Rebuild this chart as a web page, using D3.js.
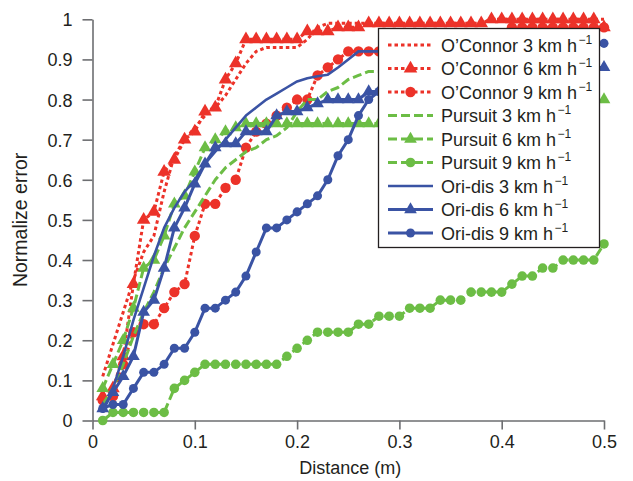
<!DOCTYPE html>
<html>
<head>
<meta charset="utf-8">
<script src="https://cdn.jsdelivr.net/npm/d3@7"></script>
<style>
  html, body { margin: 0; padding: 0; background: #fff; }
  svg { display: block; }
  text { font-family: "Liberation Sans", Arial, Helvetica, sans-serif; fill: #231f20; }
</style>
</head>
<body>
<svg id="chart" width="633" height="481"></svg>
<script>
// Distance along the path (m)
const distance = [
  0.01, 0.02, 0.03, 0.04, 0.05, 0.06, 0.07, 0.08, 0.09, 0.10,
  0.11, 0.12, 0.13, 0.14, 0.15, 0.16, 0.17, 0.18, 0.19, 0.20,
  0.21, 0.22, 0.23, 0.24, 0.25, 0.26, 0.27, 0.28, 0.29, 0.30,
  0.31, 0.32, 0.33, 0.34, 0.35, 0.36, 0.37, 0.38, 0.39, 0.40,
  0.41, 0.42, 0.43, 0.44, 0.45, 0.46, 0.47, 0.48, 0.49, 0.50
];

// Normalized error per method and walking speed
const oConnor3 = [
  0.11, 0.19, 0.27, 0.35, 0.42, 0.46, 0.57, 0.66, 0.70, 0.73,
  0.76, 0.78, 0.81, 0.85, 0.89, 0.92, 0.93, 0.93, 0.93, 0.93,
  0.95, 0.98, 0.99, 0.99, 0.99, 0.99, 0.99, 0.99, 0.99, 0.99,
  0.99, 0.99, 0.99, 0.99, 0.99, 0.99, 0.99, 0.99, 1.00, 1.00,
  1.00, 1.00, 1.00, 1.00, 1.00, 1.00, 1.00, 1.00, 1.00, 1.00
];
const oConnor6 = [
  0.06, 0.08, 0.16, 0.34, 0.50, 0.52, 0.62, 0.65, 0.70, 0.72,
  0.77, 0.78, 0.85, 0.89, 0.95, 0.95, 0.95, 0.95, 0.95, 0.95,
  0.97, 0.97, 0.97, 0.98, 0.98, 0.98, 0.99, 0.99, 0.99, 0.99,
  0.99, 0.99, 0.99, 0.99, 0.99, 0.99, 0.99, 0.99, 1.00, 1.00,
  1.00, 1.00, 1.00, 1.00, 1.00, 1.00, 1.00, 1.00, 1.00, 0.98
];
const oConnor9 = [
  0.05, 0.06, 0.14, 0.22, 0.24, 0.24, 0.28, 0.32, 0.34, 0.46,
  0.54, 0.54, 0.58, 0.60, 0.68, 0.72, 0.74, 0.76, 0.78, 0.80,
  0.80, 0.86, 0.88, 0.90, 0.92, 0.92, 0.92, 0.92, 0.92, 0.94,
  0.94, 0.94, 0.94, 0.94, 0.96, 0.96, 0.96, 0.96, 0.96, 0.96,
  0.98, 0.98, 0.98, 0.98, 0.98, 0.98, 0.98, 0.98, 0.98, 0.98
];
const pursuit3 = [
  0.04, 0.08, 0.14, 0.21, 0.27, 0.32, 0.38, 0.43, 0.48, 0.52,
  0.56, 0.60, 0.63, 0.65, 0.67, 0.68, 0.70, 0.71, 0.73, 0.77,
  0.80, 0.80, 0.82, 0.83, 0.85, 0.86, 0.87, 0.87, 0.88, 0.88,
  0.88, 0.88, 0.88, 0.88, 0.88, 0.88, 0.88, 0.88, 0.88, 0.88,
  0.88, 0.88, 0.88, 0.88, 0.88, 0.88, 0.88, 0.88, 0.88, 0.88
];
const pursuit6 = [
  0.08, 0.14, 0.20, 0.28, 0.38, 0.40, 0.46, 0.54, 0.56, 0.62,
  0.68, 0.70, 0.72, 0.73, 0.74, 0.74, 0.74, 0.74, 0.74, 0.74,
  0.74, 0.74, 0.74, 0.74, 0.74, 0.74, 0.74, 0.74, 0.74, 0.74,
  0.74, 0.74, 0.74, 0.74, 0.74, 0.74, 0.74, 0.74, 0.74, 0.74,
  0.76, 0.76, 0.76, 0.76, 0.76, 0.78, 0.78, 0.78, 0.78, 0.80
];
const pursuit9 = [
  0.00, 0.02, 0.02, 0.02, 0.02, 0.02, 0.02, 0.08, 0.10, 0.12,
  0.14, 0.14, 0.14, 0.14, 0.14, 0.14, 0.14, 0.14, 0.16, 0.18,
  0.20, 0.22, 0.22, 0.22, 0.22, 0.24, 0.24, 0.26, 0.26, 0.26,
  0.28, 0.28, 0.28, 0.30, 0.30, 0.30, 0.32, 0.32, 0.32, 0.32,
  0.34, 0.36, 0.36, 0.38, 0.38, 0.40, 0.40, 0.40, 0.40, 0.44
];
const oriDis3 = [
  0.02, 0.08, 0.16, 0.25, 0.33, 0.41, 0.48, 0.53, 0.57, 0.60,
  0.64, 0.67, 0.70, 0.73, 0.76, 0.78, 0.80, 0.815, 0.83, 0.845,
  0.853, 0.858, 0.862, 0.88, 0.90, 0.92, 0.92, 0.92, 0.92, 0.92,
  0.92, 0.92, 0.92, 0.92, 0.92, 0.92, 0.92, 0.92, 0.92, 0.93,
  0.93, 0.93, 0.93, 0.93, 0.93, 0.93, 0.93, 0.93, 0.93, 0.94
];
const oriDis6 = [
  0.03, 0.07, 0.11, 0.16, 0.27, 0.30, 0.38, 0.48, 0.53, 0.59,
  0.64, 0.68, 0.69, 0.69, 0.72, 0.72, 0.72, 0.76, 0.77, 0.77,
  0.78, 0.79, 0.80, 0.80, 0.80, 0.80, 0.82, 0.82, 0.84, 0.84,
  0.84, 0.84, 0.84, 0.84, 0.84, 0.86, 0.86, 0.86, 0.86, 0.86,
  0.86, 0.86, 0.88, 0.88, 0.88, 0.88, 0.88, 0.88, 0.88, 0.88
];
const oriDis9 = [
  0.03, 0.04, 0.04, 0.08, 0.12, 0.12, 0.14, 0.18, 0.18, 0.22,
  0.28, 0.28, 0.30, 0.32, 0.36, 0.42, 0.48, 0.48, 0.50, 0.52,
  0.54, 0.56, 0.60, 0.66, 0.70, 0.76, 0.80, 0.82, 0.84, 0.86,
  0.86, 0.88, 0.88, 0.88, 0.90, 0.90, 0.90, 0.90, 0.92, 0.92,
  0.92, 0.92, 0.92, 0.92, 0.94, 0.94, 0.94, 0.94, 0.94, 0.94
];

const seriesNames = [
  "O’Connor 3 km h", "O’Connor 6 km h", "O’Connor 9 km h",
  "Pursuit 3 km h", "Pursuit 6 km h", "Pursuit 9 km h",
  "Ori-dis 3 km h", "Ori-dis 6 km h", "Ori-dis 9 km h"
];
const unitExponent = "−1";
const seriesValues = [oConnor3, oConnor6, oConnor9, pursuit3, pursuit6, pursuit9, oriDis3, oriDis6, oriDis9];

const xTicks = [0, 0.1, 0.2, 0.3, 0.4, 0.5];
const xTickLabels = ["0", "0.1", "0.2", "0.3", "0.4", "0.5"];
const yTicks = [0, 0.1, 0.2, 0.3, 0.4, 0.5, 0.6, 0.7, 0.8, 0.9, 1];
const yTickLabels = ["0", "0.1", "0.2", "0.3", "0.4", "0.5", "0.6", "0.7", "0.8", "0.9", "1"];
const xTitle = "Distance (m)";
const yTitle = "Normalize error";

// Styling per series: colour, dash pattern, marker
const RED = "#ec3229", GREEN = "#6cbd45", BLUE = "#3a53a4";
const styles = [
  { color: RED,   dash: "3.5,3", width: 3,   marker: null },
  { color: RED,   dash: "3.5,3", width: 3,   marker: "triangle", size: 80 },
  { color: RED,   dash: "3.5,3", width: 3,   marker: "circle",   size: 84 },
  { color: GREEN, dash: "9,4",   width: 3,   marker: null },
  { color: GREEN, dash: "9,4",   width: 3,   marker: "triangle", size: 70 },
  { color: GREEN, dash: "9,4",   width: 3,   marker: "circle",   size: 72 },
  { color: BLUE,  dash: null,    width: 2.6, marker: null },
  { color: BLUE,  dash: null,    width: 3,   marker: "triangle", size: 70 },
  { color: BLUE,  dash: null,    width: 3,   marker: "circle",   size: 64 }
];

const svg = d3.select("#chart");
const margin = { left: 92.5, right: 29, top: 19.3, bottom: 60.5 };
const W = 633, H = 481;

const x = d3.scaleLinear().domain([0, 0.5]).range([margin.left, W - margin.right]);
const y = d3.scaleLinear().domain([0, 1]).range([H - margin.bottom, margin.top]);

// Axes
const axisColor = "#6d6e71";
const xAxis = svg.append("g")
  .attr("transform", `translate(0,${y(0)})`)
  .call(d3.axisBottom(x).tickValues(xTicks).tickFormat((d, i) => xTickLabels[i]).tickSize(9).tickSizeOuter(0).tickPadding(6));
const yAxis = svg.append("g")
  .attr("transform", `translate(${x(0)},0)`)
  .call(d3.axisLeft(y).tickValues(yTicks).tickFormat((d, i) => yTickLabels[i]).tickSize(10).tickSizeOuter(0).tickPadding(10));

[xAxis, yAxis].forEach(g => {
  g.select(".domain").attr("stroke", axisColor).attr("stroke-width", 1.6);
  g.selectAll(".tick line").attr("stroke", axisColor).attr("stroke-width", 1.6);
  g.selectAll(".tick text")
    .attr("font-size", 18)
    .attr("font-family", null)
    .attr("fill", "#231f20");
});
yAxis.selectAll(".tick text").attr("dy", "0.36em");

svg.append("text")
  .attr("x", (x(0) + x(0.5)) / 2 + 2)
  .attr("y", 474)
  .attr("text-anchor", "middle")
  .attr("font-size", 18)
  .text(xTitle);

svg.append("text")
  .attr("transform", `translate(27,${(y(0) + y(1)) / 2}) rotate(-90)`)
  .attr("text-anchor", "middle")
  .attr("font-size", 19.5)
  .text(yTitle);

// Series
const line = d3.line()
  .x((d, i) => x(distance[i]))
  .y(d => y(d));

function symbolFor(st) {
  const type = st.marker === "triangle" ? d3.symbolTriangle : d3.symbolCircle;
  return d3.symbol().type(type).size(st.size)();
}

const plot = svg.append("g");
seriesValues.forEach((vals, k) => {
  const st = styles[k];
  const g = plot.append("g");
  g.append("path")
    .datum(vals)
    .attr("d", line)
    .attr("fill", "none")
    .attr("stroke", st.color)
    .attr("stroke-width", st.width)
    .attr("stroke-dasharray", st.dash)
    .attr("stroke-linejoin", "round");
  if (st.marker) {
    g.selectAll("path.mk")
      .data(vals)
      .join("path")
      .attr("class", "mk")
      .attr("transform", (d, i) => `translate(${x(distance[i])},${y(d)})`)
      .attr("d", symbolFor(st))
      .attr("fill", st.color);
  }
});

// Legend
const legend = svg.append("g");
legend.append("rect")
  .attr("x", 378.5).attr("y", 28.5)
  .attr("width", 221).attr("height", 219)
  .attr("fill", "#fff")
  .attr("stroke", "#231f20")
  .attr("stroke-width", 1.3);

seriesNames.forEach((name, k) => {
  const st = styles[k];
  const cy = 45 + k * 23.5;
  const row = legend.append("g");
  row.append("line")
    .attr("x1", 388).attr("x2", 433)
    .attr("y1", cy).attr("y2", cy)
    .attr("stroke", st.color)
    .attr("stroke-width", st.width)
    .attr("stroke-dasharray", st.dash);
  if (st.marker) {
    row.append("path")
      .attr("transform", `translate(410.5,${cy})`)
      .attr("d", symbolFor(st))
      .attr("fill", st.color);
  }
  const label = row.append("text")
    .attr("x", 441)
    .attr("y", cy + 6.5)
    .attr("font-size", 18)
    .text(name);
  const labelW = label.node().getComputedTextLength();
  row.append("text")
    .attr("x", 441 + labelW + 1.5)
    .attr("y", cy - 1.5)
    .attr("font-size", 12)
    .text(unitExponent);
});
</script>
</body>
</html>
